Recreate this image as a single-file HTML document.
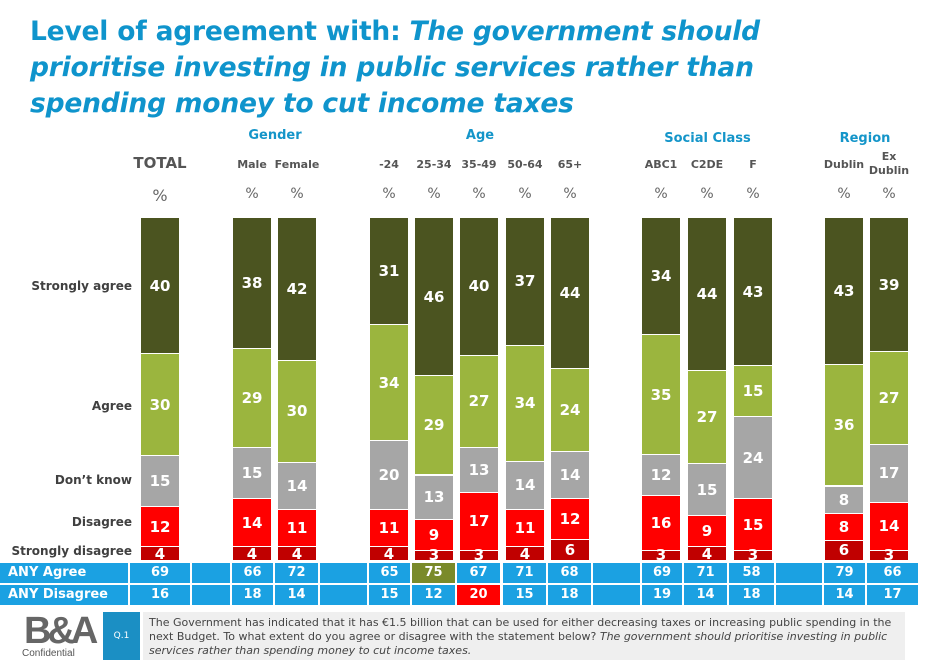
<!DOCTYPE html>
<html><head><meta charset="utf-8"><style>
body{margin:0;width:936px;height:662px;background:#fff;position:relative;overflow:hidden;font-family:"DejaVu Sans","Liberation Sans",sans-serif}
.abs{position:absolute}
#title{left:30px;top:14px;color:#0f94cc;font-weight:bold;font-size:26.5px;line-height:36px;letter-spacing:-0.2px}
.grp{color:#1495c9;font-weight:bold;font-size:13px;text-align:center}
.col{color:#555;font-weight:bold;font-size:11px;text-align:center;line-height:14px}
.pct{color:#666;font-size:14px;text-align:center;width:40px}
.rowlab{color:#404040;font-weight:bold;font-size:12px;text-align:right;width:130px;left:2px}
.seg{position:absolute;color:#fff;font-weight:bold;font-size:15px;text-align:center;display:flex;align-items:center;justify-content:center;box-sizing:border-box;border-top:1px solid #fff}
.cell{position:absolute;height:20px;background:#1ba1e2;color:#fff;font-weight:bold;font-size:13px;text-align:center;line-height:20px}
</style></head><body>
<div id="title" class="abs">Level of agreement with: <i>The government should<br>prioritise investing in public services rather than<br>spending money to cut income taxes</i></div>
<div class="abs grp" style="left:220px;top:128px;width:110px">Gender</div>
<div class="abs grp" style="left:420px;top:128px;width:120px">Age</div>
<div class="abs grp" style="left:640px;top:131px;width:135px">Social Class</div>
<div class="abs grp" style="left:810px;top:131px;width:110px">Region</div>
<div class="abs rowlab" style="top:279px">Strongly agree</div>
<div class="abs rowlab" style="top:399px">Agree</div>
<div class="abs rowlab" style="top:473px">Don’t know</div>
<div class="abs rowlab" style="top:515px">Disagree</div>
<div class="abs rowlab" style="top:544px">Strongly disagree</div>
<div class="abs" style="left:0;top:563px;width:936px;height:44px" id="table"></div>
<div class="abs" style="left:20px;top:612px;width:76px;height:48px">
<div style="position:absolute;left:4px;top:0;font:bold 38px 'Liberation Sans',sans-serif;color:#666;letter-spacing:-4px;line-height:38px">B&amp;A</div>
<div style="position:absolute;left:2px;top:36px;font:10px 'Liberation Sans',sans-serif;color:#555">Confidential</div></div>
<div class="abs" style="left:103px;top:612px;width:37px;height:48px;background:#1b8fc4;color:#fff;font-size:9px;display:flex;align-items:center;justify-content:center">Q.1</div>
<div class="abs" style="left:143px;top:612px;width:762px;height:48px;background:#efefef;color:#444;font-size:11px;line-height:14px;padding:4px 6px;box-sizing:border-box">The Government has indicated that it has €1.5 billion that can be used for either decreasing taxes or increasing public spending in the next Budget. To what extent do you agree or disagree with the statement below? <i>The government should prioritise investing in public services rather than spending money to cut income taxes.</i></div>
<script>
const categories=["TOTAL","Male","Female","-24","25-34","35-49","50-64","65+","ABC1","C2DE","F","Dublin","Ex Dublin"];
const stronglyAgree=[40,38,42,31,46,40,37,44,34,44,43,43,39];
const agree=[30,29,30,34,29,27,34,24,35,27,15,36,27];
const dontKnow=[15,15,14,20,13,13,14,14,12,15,24,8,17];
const disagree=[12,14,11,11,9,17,11,12,16,9,15,8,14];
const stronglyDisagree=[4,4,4,4,3,3,4,6,3,4,3,6,3];
const anyAgree=[69,66,72,65,75,67,71,68,69,71,58,79,66];
const anyDisagree=[16,18,14,15,12,20,15,18,19,14,18,14,17];
const centers=[160,252,297,389,434,479,525,570,661,707,753,844,889];
const series=[stronglyAgree,agree,dontKnow,disagree,stronglyDisagree];
const colors=["#4b5420","#9bb53e","#a6a6a6","#ff0000","#c00000"];
const topY=218,bottomY=560,bw=38;
const body=document.body;
categories.forEach((c,i)=>{
  const lab=document.createElement('div');lab.className='abs col';
  
  
  if(c==="TOTAL"){lab.style.fontSize='15px';lab.style.color='#555';}
  lab.style.left=(centers[i]-30)+'px';lab.style.width='60px';
  lab.style.top=(c==="Ex Dublin"?150:(c==="TOTAL"?156:158))+'px';
  lab.innerHTML=c==="Ex Dublin"?"Ex<br>Dublin":c;body.appendChild(lab);
  const p=document.createElement('div');p.className='abs pct';
  
  
  p.style.left=(centers[i]-20)+'px';p.style.top='186px';p.textContent='%';
  if(i===0)p.style.fontSize='16px';body.appendChild(p);
  let total=series.reduce((s,a)=>s+a[i],0);
  let scale=(bottomY-topY)/total,y=topY;
  series.forEach((a,k)=>{
    const h=a[i]*scale;const s=document.createElement('div');s.className='seg';
    
    
    s.style.left=(centers[i]-bw/2)+'px';s.style.width=bw+'px';
    s.style.top=y+'px';s.style.height=h+'px';s.style.background=colors[k];
    if(k===0)s.style.borderTop='none';
    s.textContent=a[i];body.appendChild(s);y+=h;
  });
});
const table=document.getElementById('table');
const bounds=[[0,128],[130,190],[192,230],[232,273],[275,318],[320,367],[369,410],[412,455],[457,500],[503,546],[548,591],[593,640],[642,682],[684,727],[729,774],[776,822],[824,865],[867,918]];
const dataCols=[1,3,4,6,7,8,9,10,12,13,14,16,17];
[[anyAgree,"ANY Agree",0],[anyDisagree,"ANY Disagree",22]].forEach(([arr,name,ty])=>{
  bounds.forEach((b,j)=>{
    const c=document.createElement('div');c.className='cell';
    
    
    c.style.left=b[0]+'px';c.style.width=(b[1]-b[0])+'px';c.style.top=ty+'px';
    if(j===0){c.textContent=name;c.style.textAlign='left';c.style.paddingLeft='8px';c.style.width=(b[1]-b[0]-8)+'px';}
    const di=dataCols.indexOf(j);
    if(di>=0){c.textContent=arr[di];
      if(name==="ANY Agree"&&di===4)c.style.background='#7a8a2a';
      if(name==="ANY Disagree"&&di===5)c.style.background='#ff0000';}
    table.appendChild(c);
  });
});
</script>
</body></html>
